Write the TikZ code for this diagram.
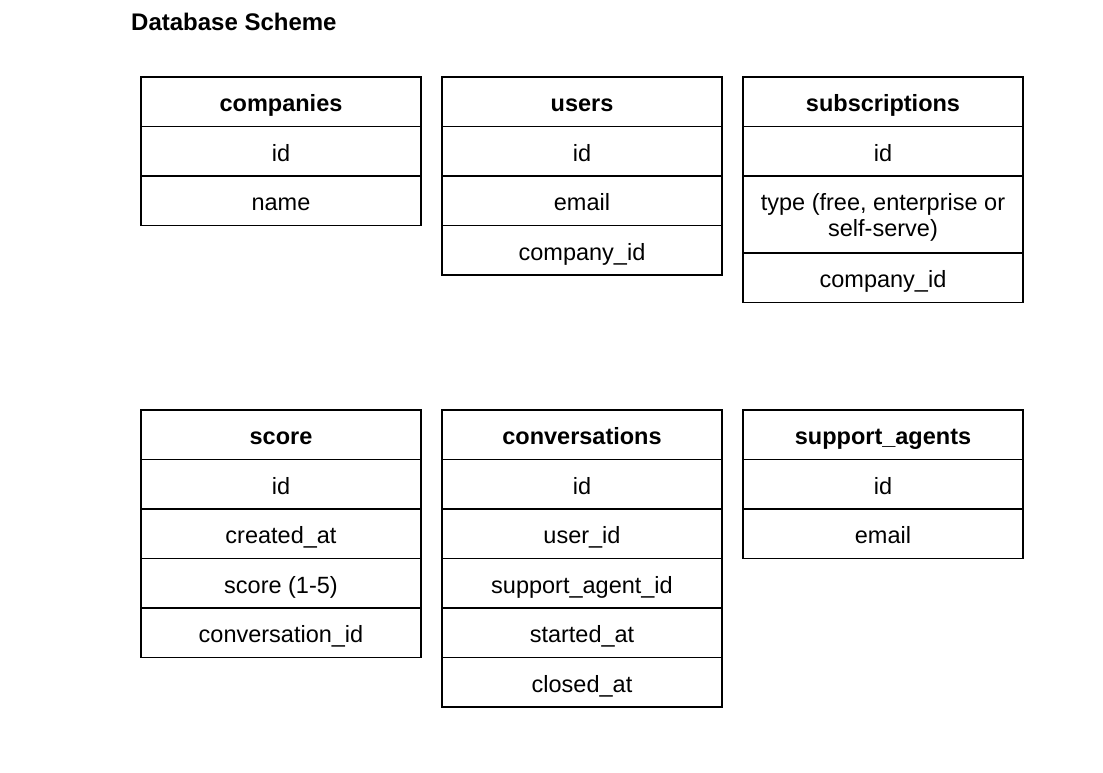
\documentclass[tikz,border=0pt]{standalone}
\usepackage{fontspec}
\setmainfont{Liberation Sans}
\usetikzlibrary{positioning}
\tikzset{x=1pt,y=-1pt,node distance=0pt}
\tikzset{box/.style={draw,line width=1.4pt,minimum width=280pt,minimum height=49.5pt,
        inner sep=0pt,outer sep=0pt,font=\fontsize{23.5}{26}\selectfont,align=center}}
\tikzset{cell/.style={box,text height=24pt,text depth=4pt}}
\tikzset{head/.style={cell,font=\fontsize{23.5}{26}\selectfont\bfseries}}

\begin{document}
\begin{tikzpicture}
    \useasboundingbox (0,0) rectangle (1103,773);
    \node[anchor=base west,inner sep=0pt,font=\fontsize{24}{28}\selectfont\bfseries] (title) at (131,31) {Database Scheme};

    % first row of tables
    \node[head,anchor=north west] (companies) at (141,77) {companies};
    \node[cell] (companies_id) [below=of companies] {id};
    \node[cell] (companies_name) [below=of companies_id] {name};

    \node[head,anchor=north west] (users) at (442,77) {users};
    \node[cell] (users_id) [below=of users] {id};
    \node[cell] (users_email) [below=of users_id] {email};
    \node[cell] (users_company) [below=of users_email] {company\_id};

    \node[head,anchor=north west] (subscriptions) at (743,77) {subscriptions};
    \node[cell] (subscriptions_id) [below=of subscriptions] {id};
    \node[box,minimum height=77pt] (subscriptions_type) [below=of subscriptions_id] {\rule{0pt}{23pt}type (free, enterprise or\\self-serve)};
    \node[cell] (subscriptions_company) [below=of subscriptions_type] {company\_id};

    % second row of tables
    \node[head,anchor=north west] (score) at (141,410) {score};
    \node[cell] (score_id) [below=of score] {id};
    \node[cell] (score_created) [below=of score_id] {created\_at};
    \node[cell] (score_value) [below=of score_created] {score (1-5)};
    \node[cell] (score_conversation) [below=of score_value] {conversation\_id};

    \node[head,anchor=north west] (conversations) at (442,410) {conversations};
    \node[cell] (conversations_id) [below=of conversations] {id};
    \node[cell] (conversations_user) [below=of conversations_id] {user\_id};
    \node[cell] (conversations_agent) [below=of conversations_user] {support\_agent\_id};
    \node[cell] (conversations_started) [below=of conversations_agent] {started\_at};
    \node[cell] (conversations_closed) [below=of conversations_started] {closed\_at};

    \node[head,anchor=north west] (support_agents) at (743,410) {support\_agents};
    \node[cell] (support_agents_id) [below=of support_agents] {id};
    \node[cell] (support_agents_email) [below=of support_agents_id] {email};
\end{tikzpicture}
\end{document}
